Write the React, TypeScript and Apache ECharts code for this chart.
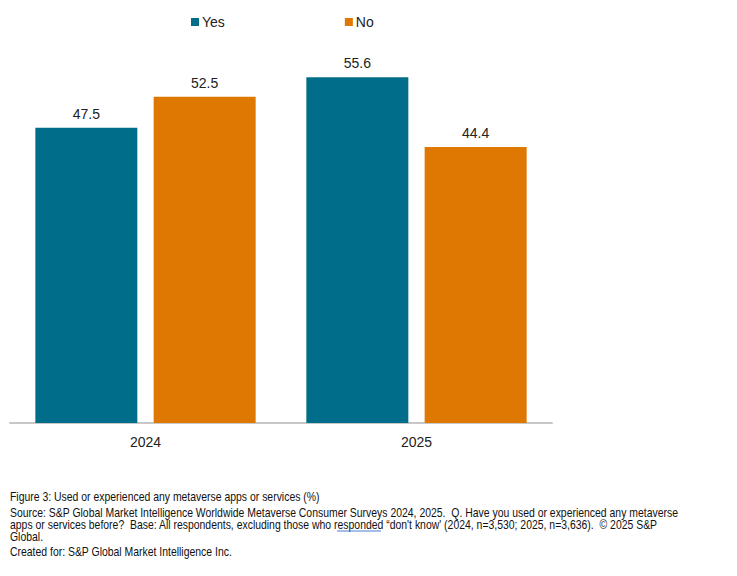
import React, { useEffect, useRef } from "react";
import * as echarts from "echarts";

const categories = ["2024", "2025"];
const yesValues = [47.5, 55.6];
const noValues = [52.5, 44.4];
const seriesNames = ["Yes", "No"];

const footLines = [
  "Figure 3: Used or experienced any metaverse apps or services (%)",
  "Source: S&P Global Market Intelligence Worldwide Metaverse Consumer Surveys 2024, 2025.  Q. Have you used or experienced any metaverse",
  "apps or services before?  Base: All respondents, excluding those who responded \u201cdon't know' (2024, n=3,530; 2025, n=3,636).  \u00a9 2025 S&P",
  "Global.",
  "Created for: S&P Global Market Intelligence Inc.",
];

export default function App() {
  const ref = useRef<HTMLDivElement>(null);
  useEffect(() => {
    document.body.style.margin = "0";
    const chart = echarts.init(ref.current!, null, { renderer: "svg" });
    const font = "'Liberation Sans', Arial, sans-serif";
    const footY = [497, 513, 525, 537, 552];
    chart.setOption({
      animation: false,
      textStyle: { fontFamily: font },
      legend: {
        data: seriesNames,
        left: 186,
        top: 10,
        itemWidth: 8,
        itemHeight: 8,
        itemGap: 120,
        icon: "rect",
        textStyle: { fontSize: 14, color: "#222", fontFamily: font, padding: [0, 0, 0, -2] },
      },
      grid: { left: 10, right: 185, top: 50, bottom: 153, containLabel: false },
      xAxis: {
        type: "category",
        data: categories,
        axisLine: { lineStyle: { color: "#c8c8c8", width: 2 } },
        axisTick: { show: false },
        axisLabel: { fontSize: 14, color: "#222", margin: 12, fontFamily: font },
      },
      yAxis: {
        type: "value",
        min: 0,
        max: 60,
        show: false,
        splitLine: { show: false },
      },
      series: [
        {
          name: "Yes",
          type: "bar",
          data: yesValues,
          barWidth: 102,
          barGap: "16%",
          itemStyle: { color: "#006E8A" },
          label: { show: true, position: "top", distance: 7, fontSize: 14, color: "#222", fontFamily: font, formatter: (p: any) => p.value.toFixed(1) },
        },
        {
          name: "No",
          type: "bar",
          data: noValues,
          barWidth: 102,
          itemStyle: { color: "#DE7800" },
          label: { show: true, position: "top", distance: 7, fontSize: 14, color: "#222", fontFamily: font, formatter: (p: any) => p.value.toFixed(1) },
        },
      ],
      graphic: [
        ...footLines.map((t, i) => ({
          type: "text",
          x: 10,
          y: footY[i],
          scaleX: 0.87,
          style: { text: t, fontSize: 12, fill: "#111", fontFamily: font, verticalAlign: "middle" },
        })),
        {
          type: "line",
          shape: { x1: 337, y1: 531, x2: 381, y2: 531 },
          style: { stroke: "#4a7fd6", lineWidth: 1 },
        },
      ],
    });
    return () => chart.dispose();
  }, []);
  return <div ref={ref} style={{ width: 737, height: 576 }} />;
}
